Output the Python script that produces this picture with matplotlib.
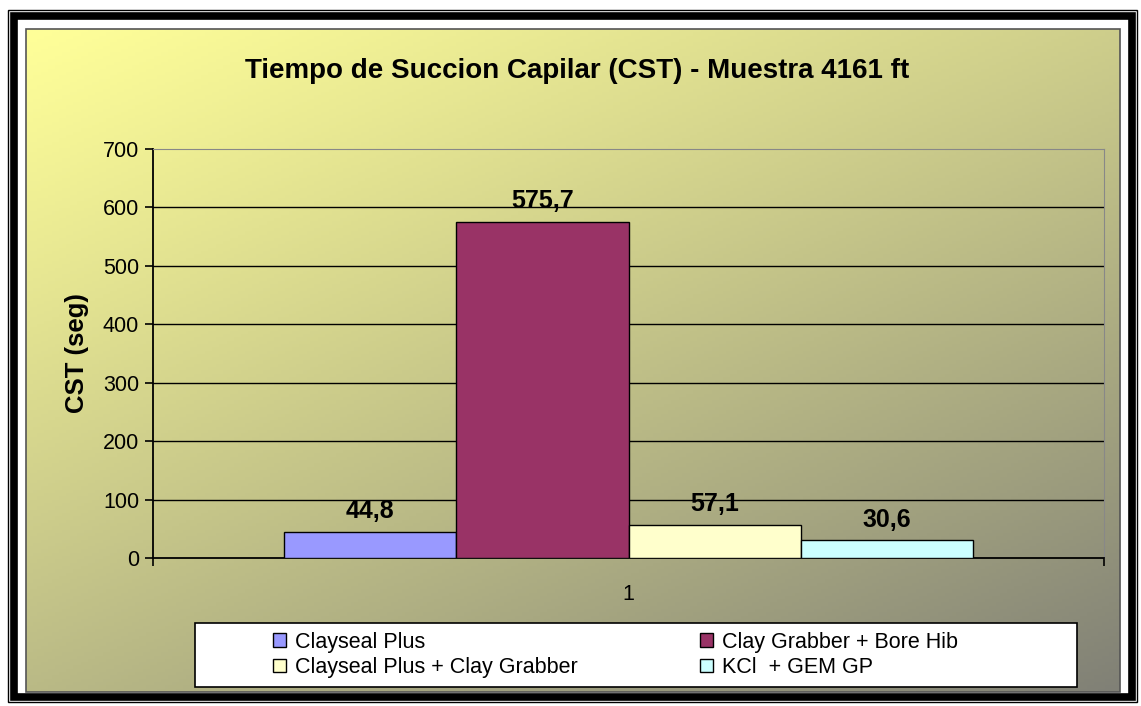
import numpy as np
import matplotlib
matplotlib.use("Agg")
import matplotlib.pyplot as plt
from matplotlib.patches import Rectangle

plt.rcParams['font.family'] = ['Liberation Sans', 'DejaVu Sans']

# data
categories = ["1"]
legend_labels = ["Clayseal Plus", "Clay Grabber + Bore Hib",
                 "Clayseal Plus + Clay Grabber", "KCl  + GEM GP"]
values = [44.8, 575.7, 57.1, 30.6]
value_labels = ["44,8", "575,7", "57,1", "30,6"]
colors = ["#9999FF", "#993366", "#FFFFCC", "#CCFFFF"]
y_ticks = [0, 100, 200, 300, 400, 500, 600, 700]

W, H = 1141, 706
fig = plt.figure(figsize=(W / 100, H / 100), dpi=100)

# frame + gradient background, drawn in pixel coordinates
bg = fig.add_axes([0, 0, 1, 1])
bg.set_xlim(0, W)
bg.set_ylim(H, 0)
bg.axis("off")
bg.add_patch(Rectangle((8, 10), 1129, 692, fill=False, ec="black", lw=1))
bg.add_patch(Rectangle((13.5, 15.5), 1118, 681, fill=False, ec="black", lw=5.5))
bg.add_patch(Rectangle((19, 21), 1107, 670, fc="white", ec="none"))

gx, gy = np.meshgrid(np.linspace(0, 1, 300), np.linspace(0, 1, 200))
t = np.clip((gx * 0.55 + gy * 0.75) / 1.3, 0, 1) ** 1.1
top = np.array([255, 255, 153]) / 255
bot = np.array([128, 128, 118]) / 255
img = top[None, None, :] * (1 - t[..., None]) + bot[None, None, :] * t[..., None]
bg.imshow(img, extent=[26, 1120, 692, 29], aspect="auto", zorder=1)
bg.add_patch(Rectangle((26, 29), 1094, 663, fill=False, ec="#555555", lw=1.2, zorder=2))

# legend box
bg.add_patch(Rectangle((195, 623), 882, 64, fc="white", ec="black", lw=1.2, zorder=3))

# main axes
ax = fig.add_axes([153 / W, 1 - 558 / H, (1104 - 153) / W, (558 - 149) / H])
ax.patch.set_alpha(0)

n = len(values)
width = 0.181
x0 = np.arange(len(categories))
offsets = (np.arange(n) - (n - 1) / 2) * width
bars = []
for i in range(n):
    b = ax.bar(x0 + offsets[i], [values[i]], width, color=colors[i],
               edgecolor="black", linewidth=1, label=legend_labels[i], zorder=3)
    bars.append(b)
    ax.annotate(value_labels[i], (x0[0] + offsets[i], values[i]),
                xytext=(0, 6), textcoords="offset points",
                ha="center", va="bottom", fontsize=18, fontweight="bold")

ax.set_xlim(-0.5, 0.5)
ax.set_ylim(0, 700)
ax.set_yticks(y_ticks)
ax.set_yticklabels([str(v) for v in y_ticks], fontsize=15.5)
for v in y_ticks[1:-1]:
    ax.axhline(v, color="black", lw=1, zorder=1)

ax.set_xticks([-0.5, 0.5])
ax.set_xticklabels(["", ""])
ax.set_xticks(x0, minor=True)
ax.set_xticklabels(categories, minor=True, fontsize=15.5)
ax.tick_params(axis="x", which="major", direction="out", length=6, width=1.2)
ax.tick_params(axis="x", which="minor", length=0, pad=19)
ax.tick_params(axis="y", direction="out", length=6, width=1.2, pad=4)

ax.spines["left"].set_linewidth(1.3)
ax.spines["bottom"].set_linewidth(1.3)
ax.spines["top"].set_color("#888888")
ax.spines["right"].set_color("#888888")

ax.set_ylabel("CST (seg)", fontsize=18.5, fontweight="bold", labelpad=10)

fig.text(577 / W, 1 - 71 / H, "Tiempo de Succion Capilar (CST) - Muestra 4161 ft",
         ha="center", va="center", fontsize=20, fontweight="bold")

# matplotlib fills legend column-wise; reorder so rows read like the original
order = [0, 2, 1, 3]
handles = [bars[i][0] for i in order]
labels = [legend_labels[i] for i in order]
leg = fig.legend(handles, labels, ncol=2, loc="center left",
                 bbox_to_anchor=(254 / W, 1 - 655 / H), frameon=False,
                 fontsize=15.5, handlelength=0.6, handleheight=0.6,
                 handletextpad=0.4, columnspacing=5.7, labelspacing=0.2)

fig.savefig("out.png", dpi=100)
